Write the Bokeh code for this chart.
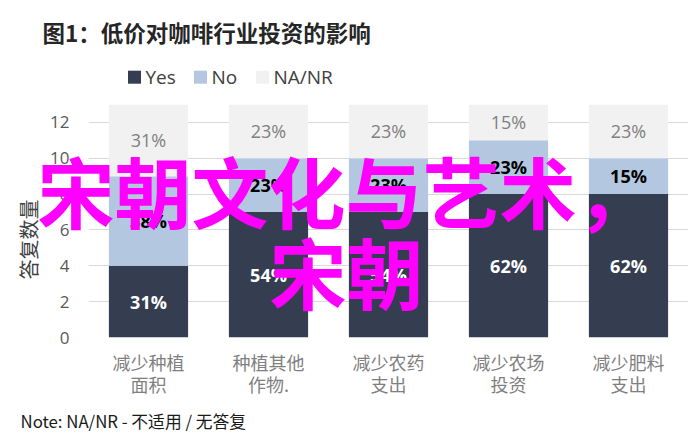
import math
from bokeh.plotting import figure
from bokeh.models import FixedTicker, Range1d, ColumnDataSource
from bokeh.embed import file_html
from bokeh.resources import INLINE
from bokeh.core.properties import value

# ---- data ----
categories = ["减少种植\n面积", "种植其他\n作物.", "减少农药\n支出", "减少农场\n投资", "减少肥料\n支出"]
series = ["Yes", "No", "NA/NR"]
yes = [4, 7, 7, 8, 8]
no = [5, 3, 3, 3, 2]
na_nr = [4, 3, 3, 2, 3]
y_ticks = [0, 2, 4, 6, 8, 10, 12]
title_text = "图1：低价对咖啡行业投资的影响"
y_label = "答复数量"
note_text = "Note: NA/NR - 不适用 / 无答复"
watermark_1 = "宋朝文化与艺术，"
watermark_2 = "宋朝"

# ---- styles ----
colors = ["#343e50", "#b4c7e0", "#f1f1f1"]
label_colors = ["#ffffff", "#000000", "#808080"]
label_styles = ["bold", "bold", "normal"]
CJK = "Noto Sans CJK SC"

W, H = 696, 444
BL, BR, BT, BB = 88, 8, 104, 107
FW, FH = W - BL - BR, H - BT - BB

x = list(range(len(categories)))
values = [yes, no, na_nr]
totals = [a + b + c for a, b, c in zip(yes, no, na_nr)]
src = ColumnDataSource({"x": x, "Yes": yes, "No": no, "NA/NR": na_nr})

x0, x1 = -0.5, len(x) - 0.5
y0, y1 = 0, max(totals)

def at(px, py):
    """pixel offset from frame bottom-left -> data coordinates"""
    return x0 + px * (x1 - x0) / FW, y0 + py * (y1 - y0) / FH

p = figure(width=W, height=H, output_backend="svg", toolbar_location=None,
           x_range=Range1d(x0, x1), y_range=Range1d(y0, y1),
           min_border_left=BL, min_border_right=BR, min_border_top=BT,
           min_border_bottom=BB)
p.outline_line_color = None
p.background_fill_color = "white"
p.border_fill_color = "white"

renderers = p.vbar_stack(series, x="x", width=0.66, source=src,
                         fill_color=colors, line_color=None)

# data labels
bottoms = [0] * len(x)
for vals, col, sty in zip(values, label_colors, label_styles):
    mids = [b + v / 2 for b, v in zip(bottoms, vals)]
    pcts = [f"{round(v / t * 100)}%" for v, t in zip(vals, totals)]
    p.text(x=x, y=mids, text=pcts, text_align="center", text_baseline="middle",
           text_font=value("Open Sans"), text_font_size="18px",
           text_font_style=sty, text_color=col)
    bottoms = [b + v for b, v in zip(bottoms, vals)]

# y axis
yax = p.yaxis[0]
yax.ticker = FixedTicker(ticks=y_ticks)
yax.axis_line_color = None
yax.major_tick_line_color = None
yax.minor_tick_line_color = None
yax.major_label_text_font = "Open Sans"
yax.major_label_text_font_size = "17px"
yax.major_label_text_color = "#595959"
yax.major_label_standoff = 13

p.ygrid.ticker = FixedTicker(ticks=y_ticks)
p.ygrid.grid_line_color = "#d9d9d9"
p.xgrid.grid_line_color = None

# x axis (two-line category labels)
xax = p.xaxis[0]
xax.ticker = FixedTicker(ticks=x)
xax.major_label_overrides = {i: s for i, s in zip(x, categories)}
xax.axis_line_color = None
xax.major_tick_line_color = None
xax.minor_tick_line_color = None
xax.major_label_text_font = CJK
xax.major_label_text_font_size = "18px"
xax.major_label_text_color = "#7f7f7f"
xax.major_label_text_line_height = 0.88
xax.major_label_standoff = 5

# free (unclipped) texts and legend, drawn at annotation level
def free_text(px, py, txt, size, color, style="normal", font=CJK,
              align="left", angle=0.0):
    tx, ty = at(px, py)
    p.text(x=[tx], y=[ty], text=[txt], text_font=value(font), text_font_size=size,
           text_font_style=style, text_color=color, text_baseline="middle",
           text_align=align, angle=angle, level="annotation")

def swatch(px, py, side, color):
    xs, ys = zip(*[at(px + dx * side / 2, py + dy * side / 2)
                   for dx, dy in [(-1, -1), (1, -1), (1, 1), (-1, 1)]])
    p.patch(x=list(xs), y=list(ys), fill_color=color, line_color=None,
            level="annotation")

# legend: swatch centre and label left offsets (pixels from frame left), row height
legend_swatch_px = [46, 112, 174]
legend_text_px = [57, 123, 185]
legend_row_py = 260.3
for s, c, sx, tx in zip(series, colors, legend_swatch_px, legend_text_px):
    swatch(sx, legend_row_py, 13, c)
    free_text(tx, legend_row_py, s, "19px", "#404040", font="Open Sans")

free_text(-60, 98, y_label, "20px", "#404040", align="center", angle=math.pi / 2)
free_text(-46, 306, title_text, "22.5px", "#262626", "bold")
free_text(-68, -83, note_text, "16.8px", "#1a1a1a")
free_text(-51, 148, watermark_1, "77px", "#ff00ff", "bold")
free_text(181, 67, watermark_2, "77px", "#ff00ff", "bold")

open("out.html", "w").write(file_html(p, INLINE))
